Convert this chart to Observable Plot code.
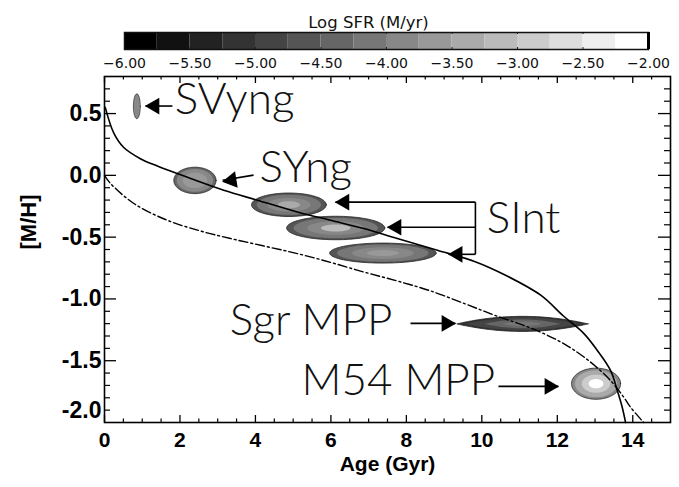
<!DOCTYPE html>
<html><head><meta charset="utf-8">
<script src="https://cdn.jsdelivr.net/npm/d3@7"></script>
<script src="https://cdn.jsdelivr.net/npm/@observablehq/plot@0.6"></script>
<style>
body{margin:0;background:#fff;}
#chart svg{display:block;}
</style></head><body><div id="chart"></div>
<script>
// ---- colour bar (Log SFR) ----
const sfrBinStart = [-6,-5.75,-5.5,-5.25,-5,-4.75,-4.5,-4.25,-4,-3.75,-3.5,-3.25,-3,-2.75,-2.5,-2.25];
const sfrBinEnd   = [-5.75,-5.5,-5.25,-5,-4.75,-4.5,-4.25,-4,-3.75,-3.5,-3.25,-3,-2.75,-2.5,-2.25,-2];
const sfrThresholds = [-5.75,-5.5,-5.25,-5,-4.75,-4.5,-4.25,-4,-3.75,-3.5,-3.25,-3,-2.75,-2.5,-2.25];
const grayLevels = ["#000000","#111111","#222222","#333333","#444444","#555555","#666666","#777777",
                    "#888888","#999999","#aaaaaa","#bbbbbb","#cccccc","#dddddd","#eeeeee","#ffffff"];
const sfrTickLabels = [-6,-5.5,-5,-4.5,-4,-3.5,-3,-2.5,-2];

// ---- axes ----
const ageTicks = [0,2,4,6,8,10,12,14];
const ageMinor = [0.5,1,1.5,2.5,3,3.5,4.5,5,5.5,6.5,7,7.5,8.5,9,9.5,10.5,11,11.5,12.5,13,13.5,14.5];
const mhTicks = [-1.5,-1.0,-0.5,0.0,0.5];
const mhMinor = [-1.9,-1.8,-1.7,-1.6,-1.4,-1.3,-1.2,-1.1,-0.9,-0.8,-0.7,-0.6,-0.4,-0.3,-0.2,-0.1,0.1,0.2,0.3,0.4,0.6,0.7];

// ---- age-metallicity relations ----
const solidAge = [0.02,0.25,0.51,0.95,1.40,2.28,3.16,4.05,5.11,5.99,6.87,7.76,8.82,9.79,10.67,11.56,12.17,12.70,13.06,13.41,13.59,13.72,13.81];
const solidMH  = [0.55,0.339,0.225,0.135,0.075,-0.025,-0.12,-0.201,-0.296,-0.363,-0.43,-0.511,-0.606,-0.695,-0.815,-0.97,-1.14,-1.279,-1.417,-1.579,-1.741,-1.876,-2.0];
const dashAge = [0.0,0.16,0.78,1.66,2.54,3.34,4.2,5.11,6.0,6.87,7.76,8.64,9.6,10.41,11.29,12.17,12.88,13.41,13.76,13.94,14.29];
const dashMH  = [0.0,-0.066,-0.228,-0.363,-0.45,-0.511,-0.57,-0.633,-0.705,-0.782,-0.855,-0.935,-1.045,-1.14,-1.235,-1.362,-1.511,-1.66,-1.795,-1.876,-2.0];

// ---- stellar populations (SFR blobs) ----
const popName = ["SVyng","SYng","SInt1","SInt2","SInt3","Sgr MPP","M54 MPP"];
const popAge = [0.87,2.41,4.90,6.14,7.39,11.09,13.04];
const popMH  = [0.555,-0.045,-0.242,-0.430,-0.633,-1.206,-1.69];
const popAgeWidth = [0.09,0.56,0.99,1.30,1.41,1.74,0.65];
const popMHWidth  = [0.10,0.107,0.095,0.095,0.081,0.061,0.126];
const popLogSFR = [[-4.0,-3.9],[-4.3,-4.0,-3.6],[-4.6,-4.1,-3.9,-3.4],[-4.6,-4.1,-4.0,-3.2],[-4.6,-4.2,-4.0,-3.7],[-5.2,-4.8,-4.4,-4.1],[-4.0,-3.4,-2.9,-2.1]];
const popLens = [false,false,false,false,false,true,false];

// ---- annotations ----
const labelText = ["SVyng","SYng","SInt","Sgr MPP","M54 MPP"];
const labelAge = [1.86,4.11,10.13,3.32,5.22];
const labelMH  = [0.609,0.058,-0.355,-1.178,-1.66];
const arrowFromAge = [1.80,3.95,9.83,9.83,9.83,8.11,10.44];
const arrowFromMH  = [0.561,0.002,-0.217,-0.42,-0.639,-1.198,-1.708];
const arrowToAge   = [1.087,3.13,6.12,7.50,9.12,9.30,12.03];
const arrowToMH    = [0.561,-0.039,-0.217,-0.42,-0.639,-1.198,-1.708];
const arrowLeft    = [true,true,true,true,true,false,false];
const bracketAge = [9.83,9.83];
const bracketMH = [-0.217,-0.639];

// build contour polygons from centre/width per level (geometry only)
const levelScale = [1,0.86,0.58,0.3];
const blobs = [];
popName.forEach((name,i)=>{
  popLogSFR[i].forEach((v,j)=>{
    const s = levelScale[j];
    const N = 60;
    for (let k=0;k<=N;k++){
      const th = Math.PI*k/N;
      const u = Math.cos(th), w = Math.sin(th);
      const half = popMHWidth[i]*s*(popLens[i] ? w*w : w);
      blobs.push({id:name+"-"+j, level:j, sfr:v,
        x: popAge[i] + popAgeWidth[i]*s*u,
        y1: popMH[i]-half, y2: popMH[i]+half});
    }
  });
});

const colorOpts = {type:"threshold", domain:sfrThresholds, range:grayLevels};
const AX = "'Liberation Sans', Arial, Helvetica, sans-serif";

const bar = Plot.plot({
  width:679, height:70, marginLeft:124, marginRight:31, marginTop:32, marginBottom:21,
  x:{domain:[-6,-2]},
  color:colorOpts,
  style:{fontFamily:"'DejaVu Sans', sans-serif", background:"#fff"},
  marks:[
    Plot.rect(sfrBinStart, {x1:d=>d, x2:(d,i)=>sfrBinEnd[i], fill:d=>d+0.1}),
    Plot.ruleX(sfrTickLabels.slice(0,8), {insetBottom:15, stroke:"#222"}),
    Plot.ruleX(sfrTickLabels.slice(0,8), {insetTop:15, stroke:"#222"}),
    Plot.frame({stroke:"#111", strokeWidth:1.5}),
    Plot.ruleX([-2], {stroke:"#000", strokeWidth:3}),
    Plot.axisX({ticks:sfrTickLabels, tickFormat:d3.format(".2f"), tickSize:0, tickPadding:9, fontSize:14, label:null, fill:"#111"}),
    Plot.text(["Log SFR (M/yr)"], {text:d=>d, frameAnchor:"top", dx:-18, dy:-16, fontSize:16.5, fill:"#111"})
  ]
});

const FW = 679-104-9, FH = 417-6-65;
const main = Plot.plot({
  width:679, height:417, marginLeft:104, marginRight:9, marginTop:6, marginBottom:65,
  x:{domain:[0,15]}, y:{domain:[-2,0.8]},
  color:colorOpts,
  style:{fontFamily:AX, background:"#fff"},
  marks:[
    Plot.area(blobs, {x1:"x", y1:"y1", y2:"y2", z:"id", fill:"sfr",
      stroke:d=>d.level===0?"#222":"none", strokeWidth:0.8, curve:"linear"}),
    Plot.line(solidAge, {x:solidAge, y:solidMH, stroke:"#000", strokeWidth:1.6, curve:"catmull-rom"}),
    Plot.line(dashAge, {x:dashAge, y:dashMH, stroke:"#000", strokeWidth:1.4, strokeDasharray:"9,3,2,3", curve:"catmull-rom"}),
    // arrows
    Plot.link(arrowFromAge, {x1:arrowFromAge, y1:arrowFromMH, x2:arrowToAge, y2:arrowToMH, stroke:"#000", strokeWidth:1.6}),
    Plot.link([0], {x1:[bracketAge[0]], y1:[bracketMH[0]], x2:[bracketAge[1]], y2:[bracketMH[1]], stroke:"#000", strokeWidth:1.6}),
    Plot.dot(arrowToAge.filter((d,i)=>arrowLeft[i]), {x:d=>d, y:(d,i)=>arrowToMH.filter((e,k)=>arrowLeft[k])[i], symbol:"triangle", r:6.2, rotate:(d,i)=>i===1?-99:-90, fill:"#000", stroke:"none", dx:9}),
    Plot.dot(arrowToAge.filter((d,i)=>!arrowLeft[i]), {x:d=>d, y:(d,i)=>arrowToMH.filter((e,k)=>!arrowLeft[k])[i], symbol:"triangle", r:6.2, rotate:90, fill:"#000", stroke:"none", dx:-9}),
    // labels
    Plot.text(labelText, {x:labelAge, y:labelMH, text:d=>d, textAnchor:"start", lineAnchor:"middle",
      fontSize:44, fontFamily:"Lato, sans-serif", fontWeight:300, fill:"#111"}),
    // ticks (inward)
    Plot.ruleX(ageTicks, {insetTop:FH-7, strokeWidth:1.3}),
    Plot.ruleX(ageTicks, {insetBottom:FH-7, strokeWidth:1.3}),
    Plot.ruleX(ageMinor, {insetTop:FH-3.5, strokeWidth:1.2}),
    Plot.ruleX(ageMinor, {insetBottom:FH-3.5, strokeWidth:1.2}),
    Plot.ruleY(mhTicks, {insetRight:FW-12, strokeWidth:1.3}),
    Plot.ruleY(mhTicks, {insetLeft:FW-12, strokeWidth:1.3}),
    Plot.ruleY(mhMinor, {insetRight:FW-6, strokeWidth:1.2}),
    Plot.ruleY(mhMinor, {insetLeft:FW-6, strokeWidth:1.2}),
    Plot.frame({stroke:"#000", strokeWidth:1.6}),
    Plot.axisX({ticks:ageTicks, tickSize:0, tickPadding:10, fontSize:21, fontWeight:"bold", fontFamily:AX, label:null, fill:"#000"}),
    Plot.axisY({ticks:mhTicks, tickFormat:d=>d.toFixed(1), tickSize:0, tickPadding:3, fontSize:23, fontWeight:"bold", fontFamily:AX, label:null, fill:"#000"}),
    Plot.axisY({ticks:[-2], tickFormat:d=>d.toFixed(1), tickSize:0, tickPadding:3, dy:-12, fontSize:23, fontWeight:"bold", fontFamily:AX, label:null, fill:"#000"}),
    Plot.text(["Age (Gyr)"], {text:d=>d, frameAnchor:"bottom", dy:48, fontSize:21, fontWeight:"bold", fontFamily:AX, fill:"#000"}),
    Plot.text(["[M/H]"], {text:d=>d, frameAnchor:"left", dx:-76, rotate:-90, fontSize:22, fontWeight:"bold", fontFamily:AX, fill:"#000"})
  ]
});

const root = document.getElementById("chart");
root.append(bar, main);
</script>
</body></html>
